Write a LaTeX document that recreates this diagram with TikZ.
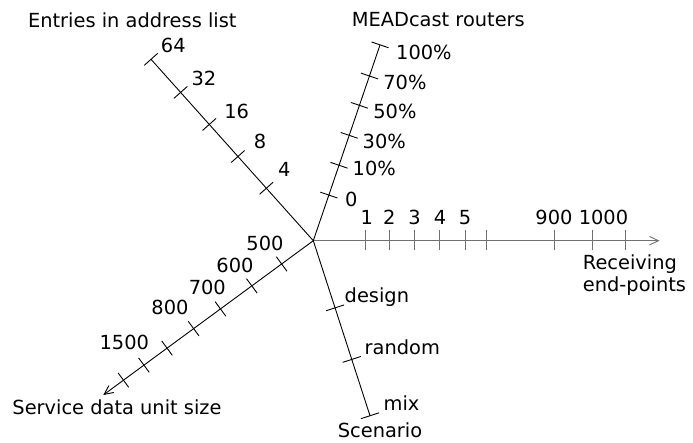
\documentclass[tikz,border=0pt]{standalone}
\usepackage{fontspec}
\setmainfont{DejaVu Sans}
\usetikzlibrary{arrows.meta}
\definecolor{axisgray}{HTML}{707070}
\begin{document}
\begin{tikzpicture}[x=1pt,y=-1pt,
  axis/.style={line width=0.9pt, black},
  haxis/.style={line width=0.9pt, axisgray},
  tipend/.style={-{Straight Barb[length=9pt,width=8.5pt]}},
  lbl/.style={inner sep=0pt, font=\fontsize{19.4}{23}\selectfont},
]
\useasboundingbox (0,0) rectangle (693,443);

% common origin and axis end points
\coordinate (O) at (313.3,240.7);
\coordinate (H) at (659.5,240.7);   % receiving end-points
\coordinate (R) at (380,45);        % MEADcast routers
\coordinate (L) at (151,59.3);      % entries in address list
\coordinate (D) at (103.3,395);     % service data unit size
\coordinate (S) at (370,415.7);     % scenario

% horizontal axis: receiving end-points
\draw[haxis, tipend] (O) -- (H);
\foreach \x in {365,389.3,414.7,439.3,465.3,486,554,592,625.3}
  \draw[haxis] (\x,230.5) -- (\x,250.5);
\foreach \x/\t in {366.7/1,389.3/2,414.5/3,440/4,465/5,554/900,603.5/1000}
  \node[lbl, anchor=base] at (\x,224.5) {\t};
\node[lbl, anchor=base west] at (582.7,270) {Receiving};
\node[lbl, anchor=base west] at (582.7,291.7) {end-points};

% MEADcast routers axis
\draw[axis] (O) -- (R);
\begin{scope}[shift={(O)}, rotate=71.18]
  \foreach \d in {48.2,79.7,111.3,143,174,206.9}
    \draw[axis] (\d,-9) -- (\d,9);
\end{scope}
\foreach \x/\y/\t in {345/207/0,352.5/176/10\%,362.5/149/30\%,373.2/119/50\%,383.2/90/70\%,396/60/100\%}
  \node[lbl, anchor=base west] at (\x,\y) {\t};
\node[lbl, anchor=base] at (438.3,26.7) {MEADcast routers};

% entries in address list axis
\draw[axis] (O) -- (L);
\begin{scope}[shift={(O)}, rotate=131.82]
  \foreach \d in {70.4,113,156,199,243.4}
    \draw[axis] (\d,-9) -- (\d,9);
\end{scope}
\foreach \x/\y/\t in {284.3/177/4,260/149/8,236.7/119/16,204/85.5/32,173.3/52.5/64}
  \node[lbl, anchor=base] at (\x,\y) {\t};
\node[lbl, anchor=base] at (132.3,27.3) {Entries in address list};

% service data unit size axis
\draw[axis, tipend] (O) -- (D);
\begin{scope}[shift={(O)}, rotate=216.3]
  \foreach \d in {39.3,76.3,115.2,148.5,181.5,210.2,235.6}
    \draw[axis] (\d,-9) -- (\d,9);
\end{scope}
\foreach \x/\y/\t in {265/250.7/500,235/272.7/600,207.3/295/700,170/315/800,124.3/349/1500}
  \node[lbl, anchor=base] at (\x,\y) {\t};
\node[lbl, anchor=base] at (117,414) {Service data unit size};

% scenario axis
\draw[axis] (O) -- (S);
\begin{scope}[shift={(O)}, rotate=-72.05]
  \foreach \d in {70.6,124.8,184}
    \draw[axis] (\d,-9.5) -- (\d,9.5);
\end{scope}
\foreach \x/\y/\t in {344.5/302.3/design,364.5/355/random,383.5/410/mix}
  \node[lbl, anchor=base west] at (\x,\y) {\t};
\node[lbl, anchor=base] at (380,437.3) {Scenario};
\end{tikzpicture}
\end{document}
